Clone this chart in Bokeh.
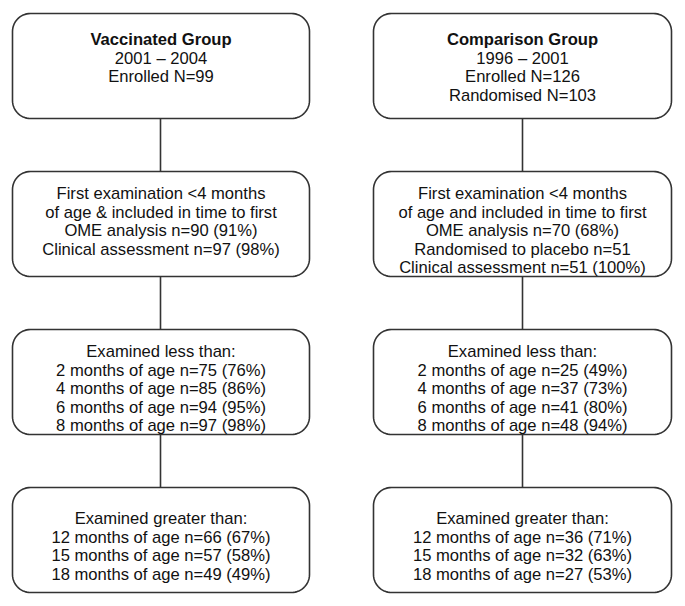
import numpy as np
from bokeh.plotting import figure
from bokeh.models import ColumnDataSource, Range1d
from bokeh.core.properties import value
from bokeh.embed import file_html
from bokeh.resources import INLINE

# ---- content (data) ----
vacc_title = "Vaccinated Group"
vacc_lines_1 = ["2001 – 2004", "Enrolled N=99"]
comp_title = "Comparison Group"
comp_lines_1 = ["1996 – 2001", "Enrolled N=126", "Randomised N=103"]

vacc_lines_2 = ["First examination <4 months",
                "of age & included in time to first",
                "OME analysis n=90 (91%)",
                "Clinical assessment n=97 (98%)"]
comp_lines_2 = ["First examination <4 months",
                "of age and included in time to first",
                "OME analysis n=70 (68%)",
                "Randomised to placebo n=51",
                "Clinical assessment n=51 (100%)"]

less_months = [2, 4, 6, 8]
vacc_less_n = [75, 85, 94, 97]
vacc_less_pct = [76, 86, 95, 98]
comp_less_n = [25, 37, 41, 48]
comp_less_pct = [49, 73, 80, 94]

greater_months = [12, 15, 18]
vacc_greater_n = [66, 57, 49]
vacc_greater_pct = [67, 58, 49]
comp_greater_n = [36, 32, 27]
comp_greater_pct = [71, 63, 53]

# ---- layout ----
W, H = 677, 598
col_x = [(12, 309), (373, 671)]
row_top = [13, 171, 329, 487]
box_h = 105
first_offset = [26, 22, 22, 31]
line_gap = 18.6
radius = 18
FONT = "Liberation Sans"
BORDER = "#333333"

p = figure(width=W, height=H, output_backend="svg", toolbar_location=None,
           x_range=Range1d(0, W), y_range=Range1d(H, 0),
           x_axis_location=None, y_axis_location=None, min_border=0)
p.grid.visible = False
p.outline_line_color = None
p.background_fill_color = "white"


def rrect(x0, y0, x1, y1, r, n=16):
    xs, ys = [], []
    corners = [(x1 - r, y0 + r, -np.pi / 2, 0), (x1 - r, y1 - r, 0, np.pi / 2),
               (x0 + r, y1 - r, np.pi / 2, np.pi), (x0 + r, y0 + r, np.pi, 1.5 * np.pi)]
    for cx, cy, a0, a1 in corners:
        t = np.linspace(a0, a1, n)
        xs.extend(cx + r * np.cos(t))
        ys.extend(cy + r * np.sin(t))
    return xs, ys


def less_lines(ns, pcts):
    return ["Examined less than:"] + [f"{m} months of age n={n} ({q}%)" for m, n, q in zip(less_months, ns, pcts)]


def greater_lines(ns, pcts):
    return ["Examined greater than:"] + [f"{m} months of age n={n} ({q}%)" for m, n, q in zip(greater_months, ns, pcts)]


boxes = [
    [[vacc_title] + vacc_lines_1, [comp_title] + comp_lines_1],
    [vacc_lines_2, comp_lines_2],
    [less_lines(vacc_less_n, vacc_less_pct), less_lines(comp_less_n, comp_less_pct)],
    [greater_lines(vacc_greater_n, vacc_greater_pct), greater_lines(comp_greater_n, comp_greater_pct)],
]

pxs, pys = [], []
tx, ty, tt, tstyle = [], [], [], []
for r, row in enumerate(boxes):
    for c, lines in enumerate(row):
        x0, x1 = col_x[c]
        y0 = row_top[r]
        xs, ys = rrect(x0, y0, x1, y0 + box_h, radius)
        pxs.append(xs)
        pys.append(ys)
        cx = (x0 + x1) / 2
        for i, s in enumerate(lines):
            tx.append(cx)
            ty.append(y0 + first_offset[r] + i * line_gap)
            tt.append(s)
            tstyle.append("bold" if (r == 0 and i == 0) else "normal")

p.patches(pxs, pys, fill_color="white", line_color=BORDER, line_width=1.6)

# connectors
for c in range(2):
    cx = round((col_x[c][0] + col_x[c][1]) / 2)
    for r in range(3):
        p.line([cx, cx], [row_top[r] + box_h, row_top[r + 1]], line_color=BORDER, line_width=1.6)

src = ColumnDataSource(dict(x=tx, y=ty, text=tt, style=tstyle))
p.text(x="x", y="y", text="text", source=src, text_align="center", text_baseline="alphabetic",
       text_font=value(FONT), text_font_size="16.6px", text_font_style="style", text_color="#111111")

open("out.html", "w").write(file_html(p, INLINE))
